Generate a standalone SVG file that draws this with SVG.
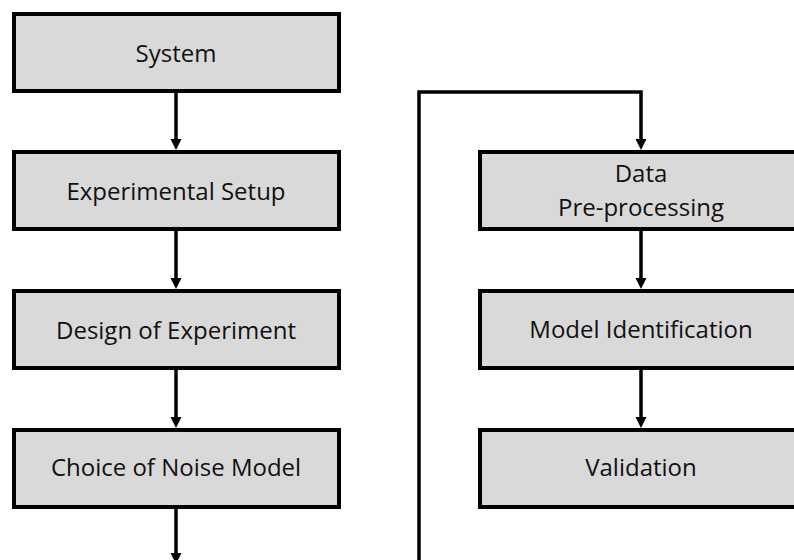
<svg xmlns="http://www.w3.org/2000/svg" width="794" height="560" viewBox="0 0 794 560">
  <defs>
    <style>
      .box { fill: #d9d9d9; stroke: #000; stroke-width: 4; }
      .lbl { font-family: "Open Sans", "Liberation Sans", sans-serif; font-size: 24px; fill: #111; text-anchor: middle; }
      .conn { fill: none; stroke: #000; stroke-width: 3.5; stroke-linejoin: miter; }
    </style>
    <marker id="arr" markerUnits="userSpaceOnUse" markerWidth="12" markerHeight="12" refX="0" refY="6" orient="auto" overflow="visible">
      <path d="M0,0.5 L11,6 L0,11.5 Z" fill="#000"/>
    </marker>
  </defs>
  <rect width="794" height="560" fill="#fff"/>

  <g id="connectors">
    <path class="conn" d="M176,93 V139" marker-end="url(#arr)"/>
    <path class="conn" d="M176,231 V278" marker-end="url(#arr)"/>
    <path class="conn" d="M176,370 V417" marker-end="url(#arr)"/>
    <path class="conn" d="M176,508 V553" marker-end="url(#arr)"/>
    <path class="conn" d="M419,560 V92 H641 V139" marker-end="url(#arr)"/>
    <path class="conn" d="M641,231 V278" marker-end="url(#arr)"/>
    <path class="conn" d="M641,370 V417" marker-end="url(#arr)"/>
  </g>

  <g id="system">
    <rect class="box" x="14" y="14" width="325" height="77"/>
    <text class="lbl" x="176" y="62">System</text>
  </g>
  <g id="experimental-setup">
    <rect class="box" x="14" y="152" width="325" height="77"/>
    <text class="lbl" x="176" y="200">Experimental Setup</text>
  </g>
  <g id="design-of-experiment">
    <rect class="box" x="14" y="291" width="325" height="77"/>
    <text class="lbl" x="176" y="339">Design of Experiment</text>
  </g>
  <g id="choice-of-noise-model">
    <rect class="box" x="14" y="430" width="325" height="77"/>
    <text class="lbl" x="176" y="476">Choice of Noise Model</text>
  </g>
  <g id="data-preprocessing">
    <rect class="box" x="480" y="152" width="325" height="77"/>
    <text class="lbl" x="641" y="182">Data</text>
    <text class="lbl" x="641" y="216">Pre-processing</text>
  </g>
  <g id="model-identification">
    <rect class="box" x="480" y="291" width="325" height="77"/>
    <text class="lbl" x="641" y="338">Model Identification</text>
  </g>
  <g id="validation">
    <rect class="box" x="480" y="430" width="325" height="77"/>
    <text class="lbl" x="641" y="476">Validation</text>
  </g>
</svg>
